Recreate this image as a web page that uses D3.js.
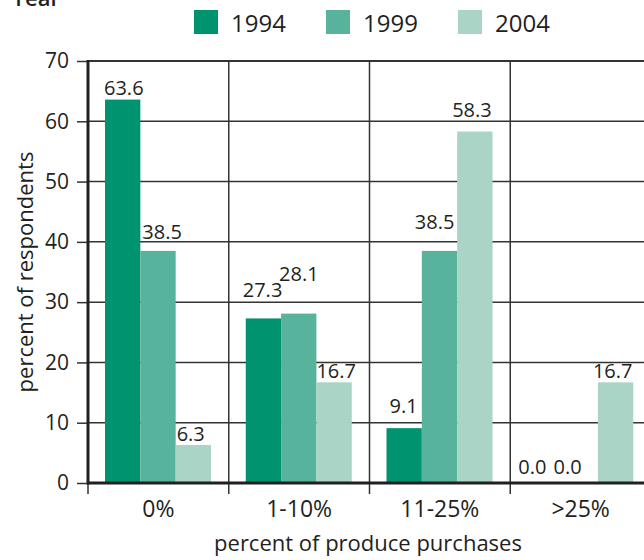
<!DOCTYPE html>
<html><head><meta charset="utf-8">
<script src="https://cdn.jsdelivr.net/npm/d3@7"></script>
<style>
html,body{margin:0;padding:0;background:#fff;}
svg{display:block;font-family:"Open Sans","Noto Sans",sans-serif;}
</style></head>
<body>
<script>
const categories = ["0%", "1-10%", "11-25%", ">25%"];
const years = ["1994", "1999", "2004"];
const values1994 = [63.6, 27.3, 9.1, 0.0];
const values1999 = [38.5, 28.1, 38.5, 0.0];
const values2004 = [6.3, 16.7, 58.3, 16.7];
const yTicks = [0, 10, 20, 30, 40, 50, 60, 70];
const colors = ["#00936f", "#58b39d", "#a9d4c6"];

// label nudges (dx from bar left, dy above bar top) for readability
const labelNudge = {
  "1994": [[-1,-5],[-3,-21],[3,-15],[-9,-9]],
  "1999": [[2,-12],[-2,-33],[-7,-22],[-9,-9]],
  "2004": [[1,-4],[0,-4],[-5,-15],[-5,-4]]
};

const seriesValues = [values1994, values1999, values2004];
const data = categories.map((c, i) => ({cat: c, vals: years.map((yr, j) => ({year: yr, v: seriesValues[j][i], j, i}))}));

const W = 644, H = 560;
const svg = d3.select("body").append("svg").attr("width", W).attr("height", H);
const ink = "#231f20";

const pLeft = 88, pRight = 651, pTop = 61, pBottom = 483;
const x0 = d3.scaleBand().domain(categories).range([pLeft, pRight]).paddingInner(0).paddingOuter(0);
const x1 = d3.scaleBand().domain(years).range([17, 123]);
const y = d3.scaleLinear().domain([0, 70]).range([pBottom, pTop]);

// "Year" title partly clipped at the top edge, as in the reference
svg.append("text").attr("x", 12).attr("y", 6).attr("font-size", 22).attr("font-weight", 600).attr("fill", ink).text("Year");

// gridlines horizontal
svg.append("g").selectAll("line").data(yTicks.filter(t => t > 0)).join("line")
  .attr("x1", pLeft).attr("x2", W).attr("y1", d => y(d)).attr("y2", d => y(d))
  .attr("stroke", "#333").attr("stroke-width", d => d === 70 ? 2.2 : 1.5);
// gridlines vertical
svg.append("g").selectAll("line").data(categories.slice(1)).join("line")
  .attr("x1", d => x0(d)).attr("x2", d => x0(d)).attr("y1", pTop).attr("y2", pBottom + 11)
  .attr("stroke", "#333").attr("stroke-width", 1.5);

// bars
const groups = svg.append("g").selectAll("g").data(data).join("g")
  .attr("transform", d => `translate(${x0(d.cat)},0)`);
groups.selectAll("rect").data(d => d.vals).join("rect")
  .attr("x", d => x1(d.year)).attr("width", x1.bandwidth())
  .attr("y", d => y(d.v)).attr("height", d => y(0) - y(d.v))
  .attr("fill", d => colors[d.j]);
groups.selectAll("text").data(d => d.vals).join("text")
  .attr("x", d => x1(d.year) + labelNudge[d.year][d.i][0])
  .attr("y", d => y(d.v) + labelNudge[d.year][d.i][1])
  .attr("font-size", 20).attr("fill", ink)
  .text(d => d.v.toFixed(1));

// y axis
const yAxis = d3.axisLeft(y).tickValues(yTicks).tickSize(11).tickPadding(8);
const gy = svg.append("g").attr("transform", `translate(${pLeft},0)`).call(yAxis);
gy.select(".domain").remove();
gy.selectAll(".tick line").attr("stroke", "#333").attr("stroke-width", 1.5);
gy.selectAll(".tick text").attr("font-size", 21).attr("fill", ink).attr("font-family", "'Open Sans',sans-serif");

// x axis
const xAxis = d3.axisBottom(x0).tickSize(0).tickPadding(14);
const gx = svg.append("g").attr("transform", `translate(0,${pBottom})`).call(xAxis);
gx.select(".domain").remove();
gx.selectAll(".tick text").attr("font-size", 23).attr("fill", ink).attr("font-family", "'Open Sans',sans-serif").attr("dy", "0.85em");
svg.append("line").attr("x1", pLeft).attr("x2", pLeft).attr("y1", pBottom).attr("y2", pBottom + 11).attr("stroke", "#333").attr("stroke-width", 1.5);

// axis lines
svg.append("line").attr("x1", pLeft).attr("x2", pLeft).attr("y1", pTop - 1).attr("y2", pBottom + 1.5).attr("stroke", ink).attr("stroke-width", 3);
svg.append("line").attr("x1", pLeft - 1).attr("x2", W).attr("y1", pBottom).attr("y2", pBottom).attr("stroke", ink).attr("stroke-width", 3);

// axis titles
svg.append("text").attr("x", 368).attr("y", 551).attr("text-anchor", "middle").attr("font-size", 22).attr("fill", ink).text("percent of produce purchases");
svg.append("text").attr("transform", "translate(33,272) rotate(-90)").attr("text-anchor", "middle").attr("font-size", 22).attr("fill", ink).text("percent of respondents");

// legend
const legX = [194, 326, 458];
const leg = svg.append("g").selectAll("g").data(years).join("g")
  .attr("transform", (d, i) => `translate(${legX[i]},10)`);
leg.append("rect").attr("width", 24).attr("height", 24).attr("fill", (d, i) => colors[i]);
leg.append("text").attr("x", 37).attr("y", 22).attr("font-size", 24).attr("fill", ink).text(d => d);
</script>
</body></html>
